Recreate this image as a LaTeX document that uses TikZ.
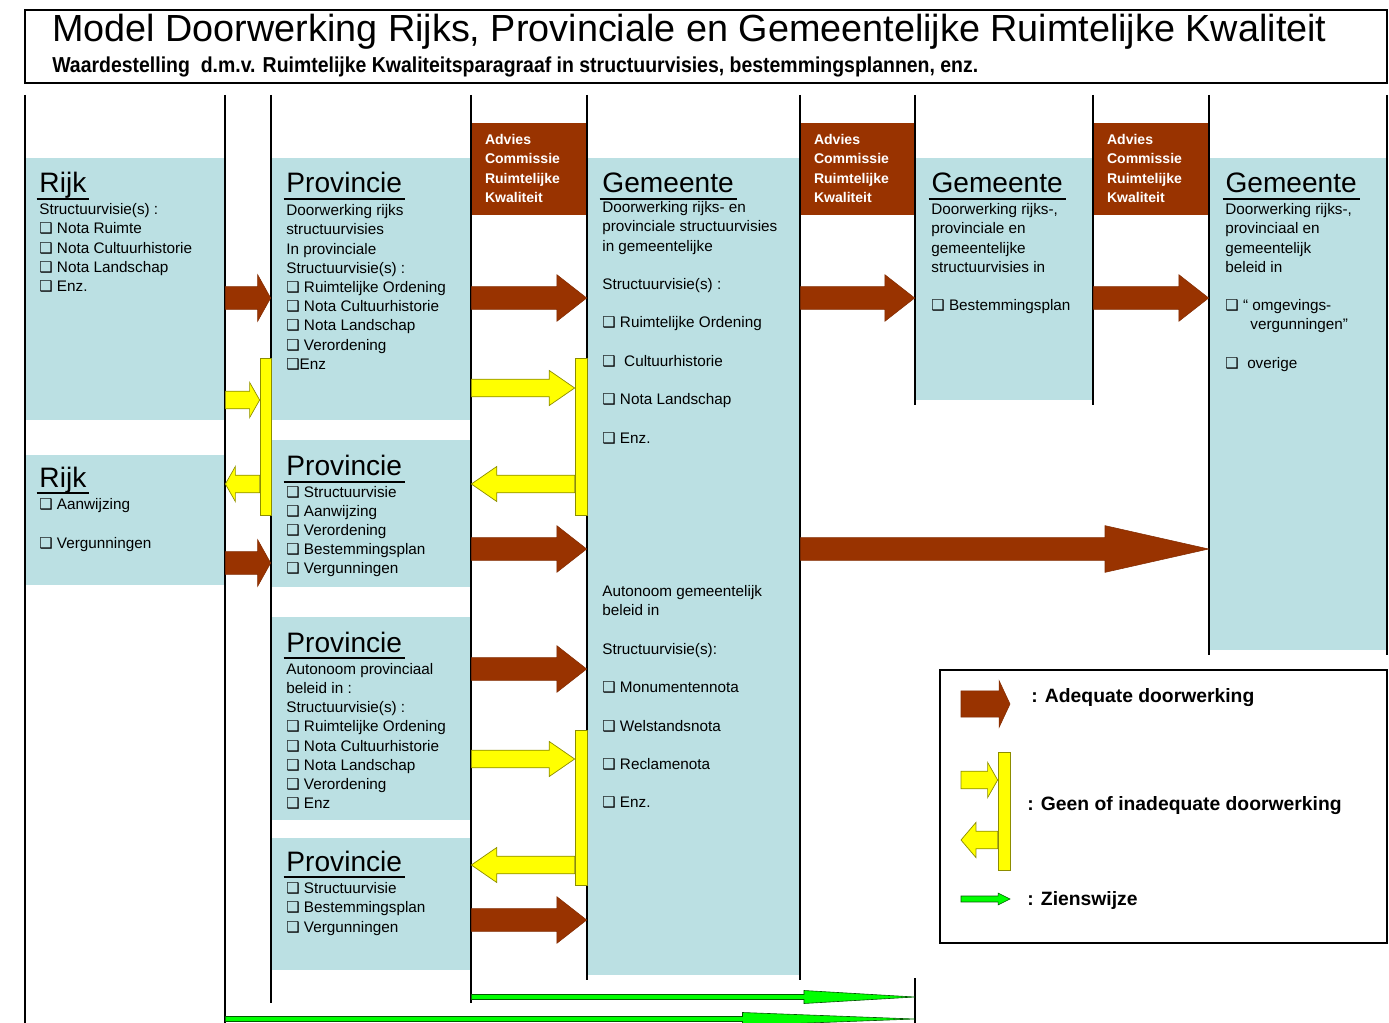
\documentclass[tikz,border=0pt]{standalone}
\usepackage{fontspec}
\setmainfont{Liberation Sans}
\newfontfamily\smalfont[FakeStretch=0.9]{Liberation Sans}
\newfontfamily\symfont{DejaVu Sans}
\usetikzlibrary{fit,calc}

\definecolor{lichtblauw}{RGB}{187,224,227}
\definecolor{bruin}{RGB}{153,51,0}
\definecolor{geel}{RGB}{255,255,0}
\definecolor{groen}{RGB}{0,255,0}

\newcommand{\vakje}{{\symfont\fontsize{8.5}{9}\selectfont ❑}}

\tikzset{
  ashaft/.store in=\arshaft, ashaft=6.5pt,
  ahead/.store in=\arhead, ahead=13.3pt,
  alen/.store in=\arlen, alen=17pt,
  blokpijl/.style={to path={let \p1=(\tikztostart), \p2=(\tikztotarget), \n1={sign(\x2-\x1)} in
    (\x1,{\y1+\arshaft}) -- ({\x2-(\n1)*\arlen},{\y1+\arshaft}) -- ({\x2-(\n1)*\arlen},{\y1+\arhead})
    -- (\x2,\y1) -- ({\x2-(\n1)*\arlen},{\y1-\arhead}) -- ({\x2-(\n1)*\arlen},{\y1-\arshaft})
    -- (\x1,{\y1-\arshaft}) -- cycle}},
  bruinpijl/.style={blokpijl, fill=bruin, draw=bruin!85!black, line width=0.3pt},
  geelpijl/.style={blokpijl, fill=geel, draw=geel!55!black, line width=0.4pt, ashaft=5pt, ahead=10pt, alen=14.5pt},
  groenpijl/.style={blokpijl, fill=groen, draw=groen!35!black, line width=0.35pt, ashaft=1.4pt, ahead=3.7pt},
  vak/.style={fill=lichtblauw, inner sep=0pt},
  advies/.style={fill=bruin, inner sep=0pt},
  balk/.style={fill=geel, draw=geel!55!black, line width=0.4pt, inner sep=0pt},
  lijn/.style={line width=1pt},
  kop/.style={anchor=base west, inner xsep=1.5pt, inner ysep=0pt, text depth=3.2pt,
    font=\fontsize{16}{19}\selectfont,
    append after command={(\tikzlastnode.south west) edge[line width=1.1pt] (\tikzlastnode.south east)}},
  regel/.style={anchor=mid west, inner sep=0pt, font=\fontsize{8.7}{10}\selectfont},
  adviesregel/.style={anchor=mid west, inner sep=0pt, text=white, font=\bfseries\fontsize{8}{9.5}\selectfont},
  legregel/.style={anchor=mid west, inner sep=0pt, font=\bfseries\fontsize{11}{13}\selectfont},
}

\begin{document}
\begin{tikzpicture}[x=0.02cm, y=-0.02cm]
  \useasboundingbox (0,0) rectangle (1389,1023);

  % titel
  \node[draw, line width=1.2pt, inner sep=0pt, fit={(25,10) (1387,83)}] (titelkader) {};
  \node[anchor=base west, inner sep=0pt, font=\fontsize{21.5}{25}\selectfont] (titel) at (52,42)
    {Model Doorwerking Rijks, Provinciale en Gemeentelijke Ruimtelijke Kwaliteit};
  \node[anchor=base west, inner sep=0pt, font=\smalfont\bfseries\fontsize{12.3}{14}\selectfont] (ondertitel) at (52,73)
    {Waardestelling\ \ d.m.v. Ruimtelijke Kwaliteitsparagraaf in structuurvisies, bestemmingsplannen, enz.};

  % vlakken
  \node[vak, fit={(25,158) (225,420)}] (rijkA) {};
  \node[vak, fit={(25,455) (225,585)}] (rijkB) {};
  \node[vak, fit={(271,158) (471,420)}] (provA) {};
  \node[vak, fit={(271,440) (471,587)}] (provB) {};
  \node[vak, fit={(271,617) (471,820)}] (provC) {};
  \node[vak, fit={(271,838) (471,970)}] (provD) {};
  \node[vak, fit={(587,158) (800,975)}] (gemA) {};
  \node[vak, fit={(915,158) (1093,400)}] (gemB) {};
  \node[vak, fit={(1209,158) (1387,650)}] (gemC) {};
  \node[advies, fit={(471,123) (587,215)}] (advA) {};
  \node[advies, fit={(800,123) (915,215)}] (advB) {};
  \node[advies, fit={(1093,123) (1209,215)}] (advC) {};

  % scheidingslijnen
  \foreach \x/\a/\b in {25/95/1023, 225/95/1023, 271/95/1003, 471/95/1003, 587/95/980, 800/95/980,
      915/95/405, 915/978/1023, 1093/95/405, 1209/95/655, 1387/95/655}
    \draw[lijn] (\x,\a) -- (\x,\b);

  % gele balken
  \node[balk, fit={(260,358) (271,515)}] (balkA) {};
  \node[balk, fit={(575,358) (587,515)}] (balkB) {};
  \node[balk, fit={(575,730) (587,885)}] (balkC) {};

  % bruine pijlen
  \draw[bruinpijl, alen=7.4pt] (rijkA.east |- 0,298) to (provA.west |- 0,298);
  \draw[bruinpijl] (provA.east |- 0,298) to (gemA.west |- 0,298);
  \draw[bruinpijl] (gemA.east |- 0,298) to (gemB.west |- 0,298);
  \draw[bruinpijl] (gemB.east |- 0,298) to (gemC.west |- 0,298);
  \draw[bruinpijl, alen=7.4pt] (rijkB.east |- 0,563) to (provB.west |- 0,563);
  \draw[bruinpijl] (provB.east |- 0,549) to (gemA.west |- 0,549);
  \draw[bruinpijl, alen=59pt] (gemA.east |- 0,549) to (gemC.west |- 0,549);
  \draw[bruinpijl] (provC.east |- 0,669) to (gemA.west |- 0,669);
  \draw[bruinpijl] (provD.east |- 0,920) to (gemA.west |- 0,920);

  % gele pijlen
  \draw[geelpijl, alen=5.7pt] (rijkA.east |- 0,400) to (balkA.west |- 0,400);
  \draw[geelpijl, alen=5.7pt] (balkA.west |- 0,484) to (rijkB.east |- 0,484);
  \draw[geelpijl] (provA.east |- 0,388) to (balkB.west |- 0,388);
  \draw[geelpijl] (balkB.west |- 0,484) to (provB.east |- 0,484);
  \draw[geelpijl] (provC.east |- 0,759) to (balkC.west |- 0,759);
  \draw[geelpijl] (balkC.west |- 0,865) to (provD.east |- 0,865);

  % groene pijlen
  \draw[groenpijl, alen=63pt] (provD.east |- 0,997) to (gemB.west |- 0,997);
  \draw[groenpijl, alen=98pt] (rijkB.east |- 0,1019) to (gemB.west |- 0,1019);

  % teksten
  \foreach \a [count=\i from 0] in {advA, advB, advC}
    \foreach \t [count=\j from 0] in {Advies, Commissie, Ruimtelijke, Kwaliteit}
      \node[adviesregel] (\a-\j) at ($(\a.north west)+(14,{17+19.5*\j})$) {\t};

  \node[kop] (rijkA-kop) at (36.5,193) {Rijk};
  \foreach \i/\t in {0/Structuurvisie(s) :, 1/\vakje\ Nota Ruimte, 2/\vakje\ Nota Cultuurhistorie,
      3/\vakje\ Nota Landschap, 4/\vakje\ Enz.}
    \node[regel] (rijkA-\i) at (39,{210+19.2*\i}) {\t};

  \node[kop] (rijkB-kop) at (36.5,487) {Rijk};
  \foreach \i/\t in {0/\vakje\ Aanwijzing, 2/\vakje\ Vergunningen}
    \node[regel] (rijkB-\i) at (39,{505+19.2*\i}) {\t};

  \node[kop] (provA-kop) at (283.5,193) {Provincie};
  \foreach \i/\t in {0/Doorwerking rijks, 1/structuurvisies, 2/In provinciale, 3/Structuurvisie(s) :,
      4/\vakje\ Ruimtelijke Ordening, 5/\vakje\ Nota Cultuurhistorie, 6/\vakje\ Nota Landschap,
      7/\vakje\ Verordening, 8/\vakje Enz}
    \node[regel] (provA-\i) at (286,{211+19.2*\i}) {\t};

  \node[kop] (provB-kop) at (283.5,476) {Provincie};
  \foreach \i/\t in {0/\vakje\ Structuurvisie, 1/\vakje\ Aanwijzing, 2/\vakje\ Verordening,
      3/\vakje\ Bestemmingsplan, 4/\vakje\ Vergunningen}
    \node[regel] (provB-\i) at (286,{493+19*\i}) {\t};

  \node[kop] (provC-kop) at (283.5,652) {Provincie};
  \foreach \i/\t in {0/Autonoom provinciaal, 1/beleid in :, 2/Structuurvisie(s) :,
      3/\vakje\ Ruimtelijke Ordening, 4/\vakje\ Nota Cultuurhistorie, 5/\vakje\ Nota Landschap,
      6/\vakje\ Verordening, 7/\vakje\ Enz}
    \node[regel] (provC-\i) at (286,{670+19.1*\i}) {\t};

  \node[kop] (provD-kop) at (283.5,871) {Provincie};
  \foreach \i/\t in {0/\vakje\ Structuurvisie, 1/\vakje\ Bestemmingsplan, 2/\vakje\ Vergunningen}
    \node[regel] (provD-\i) at (286,{889+19.3*\i}) {\t};

  \node[kop] (gemA-kop) at (599.5,193) {Gemeente};
  \foreach \i/\t in {0/Doorwerking rijks- en, 1/provinciale structuurvisies, 2/in gemeentelijke,
      4/Structuurvisie(s) :, 6/\vakje\ Ruimtelijke Ordening, 8/\vakje\ \ Cultuurhistorie,
      10/\vakje\ Nota Landschap, 12/\vakje\ Enz., 20/Autonoom gemeentelijk, 21/beleid in,
      23/Structuurvisie(s):, 25/\vakje\ Monumentennota, 27/\vakje\ Welstandsnota,
      29/\vakje\ Reclamenota, 31/\vakje\ Enz.}
    \node[regel] (gemA-\i) at (602,{208+19.2*\i}) {\t};

  \node[kop] (gemB-kop) at (928.5,193) {Gemeente};
  \foreach \i/\t in {0/{Doorwerking rijks-,}, 1/provinciale en, 2/gemeentelijke,
      3/structuurvisies in, 5/\vakje\ Bestemmingsplan}
    \node[regel] (gemB-\i) at (931,{210+19.2*\i}) {\t};

  \node[kop] (gemC-kop) at (1222.5,193) {Gemeente};
  \foreach \i/\t in {0/{Doorwerking rijks-,}, 1/provinciaal en, 2/gemeentelijk,
      3/beleid in, 5/\vakje\ “ omgevings-, 8/\vakje\ \ overige}
    \node[regel] (gemC-\i) at (1225,{210+19.2*\i}) {\t};
  \node[regel] (gemC-6) at (1250,325) {vergunningen”};

  % legenda
  \node[draw, line width=1pt, inner sep=0pt, fit={(940,670) (1387,943)}] (legenda) {};
  \coordinate (leg-a1) at (961,704);
  \coordinate (leg-a2) at (1010,704);
  \node[balk, fit={(998,752) (1010,870)}] (legbalk) {};
  \coordinate (leg-g1) at (961,780);
  \coordinate (leg-g2) at (961,840);
  \coordinate (leg-z1) at (961,899);
  \coordinate (leg-z2) at (1010,899);
  \draw[bruinpijl, alen=6.2pt, ashaft=7.5pt] (leg-a1) to (leg-a2);
  \draw[geelpijl, alen=5.7pt] (leg-g1) to (legbalk.west |- leg-g1);
  \draw[geelpijl, alen=8.5pt] (legbalk.west |- leg-g2) to (leg-g2);
  \draw[groenpijl, alen=6.8pt, ashaft=1.7pt, ahead=3.4pt] (leg-z1) to (leg-z2);
  \node[legregel] (leg-t1) at (1031,698) {: Adequate doorwerking};
  \node[legregel] (leg-t2) at (1027,806) {: Geen of inadequate doorwerking};
  \node[legregel] (leg-t3) at (1027,901) {: Zienswijze};
\end{tikzpicture}
\end{document}
